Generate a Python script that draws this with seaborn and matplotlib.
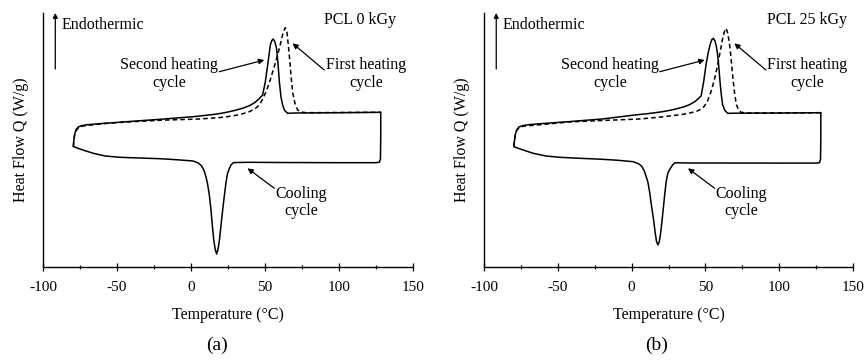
import pandas as pd
import matplotlib
matplotlib.use("Agg")
import matplotlib.pyplot as plt
import seaborn as sns

# ========== panel (a): PCL 0 kGy ==========
a_heat1_T = [-79.5, -79.2, -78.6, -77.6, -76.0, -73.0, -60, -43.5, -20, 5.6, 20, 25, 30, 35, 39.4,
             43.5, 46.1, 48.5, 50.7, 53.0, 55.2, 57.5, 59.7, 61.2, 62.5, 63.7, 64.8, 65.6, 66.4,
             67.5, 68.6, 70.2, 72.0, 74.5, 77.7, 90, 128.2]
a_heat1_Q = [120.5, 126, 132, 136.5, 139, 141, 143.3, 145.0, 146.8, 148, 149.5, 150.4, 151.6, 153.3,
             155.3, 158.5, 162, 168, 175.3, 184.5, 195.3, 206.5, 218.7, 228, 235.5, 239.3, 235, 224,
             212, 193, 175.3, 164, 157, 155, 154.3, 154.4, 154.7]

a_cool_T = [128.2, 128.2, 128.0, 127.3, 125, 100, 60, 40, 30.5, 28.6, 27.0, 25.8, 24.7, 23.6, 22.5,
            21.4, 20.3, 19.3, 18.3, 17.3, 16.3, 15.3, 14.4, 13.5, 12.4, 11.2, 10.1, 8.8, 7.2, 5.0,
            1.5, -10, -21, -35, -48, -58, -66, -72, -76, -79.5]
a_cool_Q = [154.7, 130, 108, 104.8, 104.3, 104.3, 104.5, 104.7, 104.5, 104.3, 102, 98, 93.7, 84, 71,
            57, 42, 28, 18, 13, 18, 28, 42, 57, 72, 83, 90.3, 96.5, 101, 104, 106, 107.3, 108.3,
            109, 109.7, 111, 113.7, 116.5, 118.5, 120.5]

a_heat2_T = [-79.5, -79.2, -78.6, -77.6, -76.2, -74.0, -70, -60, -43.5, -20, 1.5, 15, 20, 25, 30,
             35, 39.4, 43, 46.1, 48.4, 50.2, 51.8, 52.8, 53.6, 54.6, 55.6, 56.6, 57.8, 58.8, 59.7,
             60.8, 61.9, 63.3, 65.3, 70, 100, 128.2]
a_heat2_Q = [120.5, 126, 133, 137.5, 140, 141.3, 142.3, 143.5, 145.3, 147.8, 150.3, 152.5, 153.6,
             155.0, 156.7, 158.8, 161.3, 164.3, 168.3, 172, 185, 202, 213, 222, 226.5, 228, 225.5,
             218.7, 203, 185.3, 170, 162, 156.5, 153.7, 154, 154.3, 154.7]

# ========== panel (b): PCL 25 kGy ==========
b_heat1_T = [-79.7, -79.4, -78.8, -77.9, -76.3, -73.5, -60, -43, -20, 5.4, 20, 30, 35, 39.2, 44,
             48.2, 51.2, 53.8, 56.2, 58.3, 60.1, 61.7, 62.9, 64.0, 65.0, 65.9, 66.7, 67.8, 68.9,
             70.0, 71.1, 72.5, 74.1, 78, 100, 128.2]
b_heat1_Q = [120.3, 126, 132, 136.5, 139, 140.8, 142.5, 145, 146.5, 148, 150, 151.8, 152.7, 153.9,
             155.7, 158.7, 165, 175.3, 188, 202, 216, 228.7, 235.5, 238.7, 234.5, 227, 218.7, 202,
             185.3, 171, 162, 157, 154.7, 154, 154, 154.3]

b_cool_T = [128.2, 128.2, 128.0, 127.3, 125, 100, 60, 40, 31, 29.1, 27.8, 26.2, 24.5, 23.4, 22.5,
            21.6, 20.6, 19.6, 18.7, 17.8, 16.9, 16.0, 15.1, 14.2, 13.4, 12.3, 11.1, 9.9, 8.6, 7.0,
            5.0, 1.1, -10, -21, -35, -48.6, -58, -66.7, -72, -76, -79.7]
b_cool_Q = [154.3, 130, 108, 104.3, 103.9, 103.9, 104.0, 104.0, 104.2, 104.0, 102, 98.5, 93.7, 85,
            73.5, 60.3, 46, 33, 25, 22, 25.5, 34, 45, 54, 62, 74, 84.5, 90.3, 96, 100.5, 103, 105.3,
            106.8, 107.8, 108.7, 109.7, 111, 113.7, 116.3, 118.3, 120.3]

b_heat2_T = [-79.7, -79.4, -78.8, -77.9, -76.3, -73.9, -70, -60, -43, -20, 2.2, 10, 15, 20, 25, 30,
             35.8, 39.2, 43, 47.1, 48.9, 50.5, 52.0, 53.3, 54.4, 55.4, 56.5, 57.5, 58.3, 59.1, 59.9,
             60.8, 61.7, 63.2, 65.1, 70, 100, 128.2]
b_heat2_Q = [120.3, 126, 132.5, 137, 140, 141.3, 142.3, 143.5, 145.3, 148, 152, 153.2, 154.1, 155.1,
             156.4, 158, 160.3, 162.3, 165.5, 171, 186, 203, 215, 223, 227.5, 228.7, 226, 220, 212,
             200, 185.3, 172, 162, 156.5, 153.7, 153.8, 154, 154.3]

x_ticks = [-100, -50, 0, 50, 100, 150]

sns.set_theme(style="ticks")
plt.rcParams["font.family"] = ["Liberation Serif", "DejaVu Serif"]
plt.rcParams["axes.unicode_minus"] = False
plt.rcParams["text.color"] = "black"
plt.rcParams["axes.labelcolor"] = "black"
plt.rcParams["xtick.color"] = "black"
plt.rcParams["axes.edgecolor"] = "black"

fig = plt.figure(figsize=(8.65, 3.6), dpi=100)
W, H = 865, 360
ax_a = fig.add_axes([43 / W, 93 / H, 370 / W, 254 / H])
ax_b = fig.add_axes([484 / W, 93 / H, 369 / W, 254 / H])


def draw_curve(ax, T, Q, dashed=False):
    df = pd.DataFrame({"T": T, "Q": Q})
    sns.lineplot(data=df, x="T", y="Q", sort=False, estimator=None, color="black",
                 linewidth=1.1, linestyle=(0, (3, 2)) if dashed else "-", ax=ax)


def arrow(ax, tail, head, scale=8):
    ax.annotate("", xy=head, xytext=tail,
                arrowprops=dict(arrowstyle="-|>", color="black", lw=0.9,
                                mutation_scale=scale, shrinkA=0, shrinkB=0),
                annotation_clip=False)


def style_axes(ax, tag, xs):
    ax.set_xlim(-100, 150)
    ax.set_ylim(0, 254)
    ax.set_xticks(x_ticks)
    ax.set_xticks([-75, -25, 25, 75, 125], minor=True)
    ax.set_yticks([])
    for s in ["top", "right"]:
        ax.spines[s].set_visible(False)
    ax.spines["left"].set_linewidth(1.0)
    ax.spines["bottom"].set_linewidth(1.0)
    ax.tick_params(axis="x", which="major", direction="inout", length=5.5, width=0.9,
                   labelsize=11, pad=7.5)
    ax.tick_params(axis="x", which="minor", direction="inout", length=3, width=0.9)
    ax.set_xlabel("Temperature (°C)", fontsize=11.5, labelpad=9)
    ax.set_ylabel("Heat Flow Q (W/g)", fontsize=11.5, labelpad=10)

    # endothermic direction marker
    arrow(ax, (-91.7, 198), (-91.7, 254), scale=7)
    ax.text(-87.4, 242, "Endothermic", fontsize=11.5, ha="left", va="center")
    ax.text(138.5 + xs[0], 246.5, tag, fontsize=11.5, ha="right", va="center")

    txt = dict(fontsize=11.5, ha="center", va="center", linespacing=1.1)
    ax.text(-14.7 + xs[1], 193, "Second heating\ncycle", **txt)
    arrow(ax, (19.1 + xs[1], 195.3), (49.5 + xs[1], 207))
    ax.text(118.2 + xs[2], 193, "First heating\ncycle", **txt)
    arrow(ax, (90 + xs[2], 197), (68.6 + xs[2], 223.7))
    ax.text(74.3 + xs[3], 64.5, "Cooling\ncycle", **txt)
    arrow(ax, (56.3 + xs[3], 78.7), (38.2 + xs[3], 98.7))


for ax, heat1, cool, heat2 in [
    (ax_a, (a_heat1_T, a_heat1_Q), (a_cool_T, a_cool_Q), (a_heat2_T, a_heat2_Q)),
    (ax_b, (b_heat1_T, b_heat1_Q), (b_cool_T, b_cool_Q), (b_heat2_T, b_heat2_Q)),
]:
    draw_curve(ax, *heat1, dashed=True)
    draw_curve(ax, *cool)
    draw_curve(ax, *heat2)

style_axes(ax_a, "PCL 0 kGy", [0, 0, 0, 0])
style_axes(ax_b, "PCL 25 kGy", [7.5, 0, 1, 0])

fig.text(217 / W, 1 - 345 / H, "(a)", fontsize=14, ha="center", va="center")
fig.text(657 / W, 1 - 345 / H, "(b)", fontsize=14, ha="center", va="center")

fig.savefig("out.png", dpi=100, facecolor="white")
